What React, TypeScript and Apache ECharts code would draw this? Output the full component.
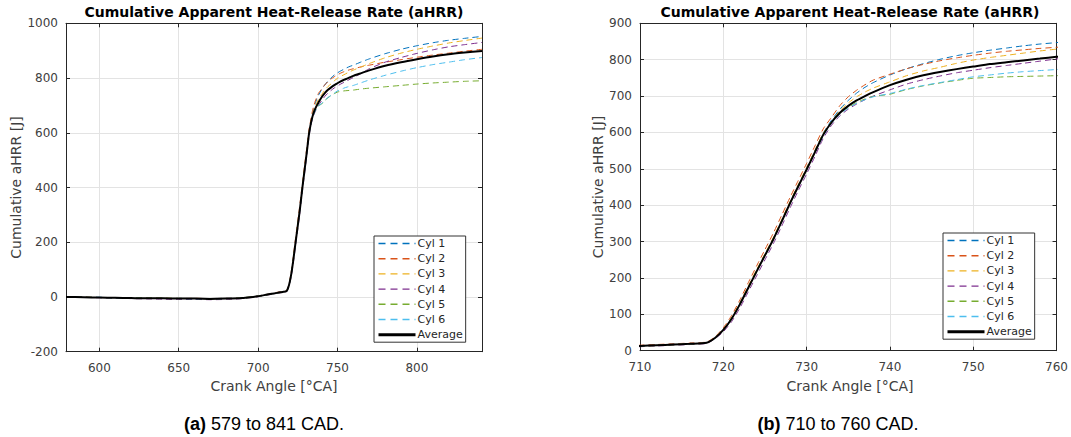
import React, { useEffect, useRef } from 'react';
import * as echarts from 'echarts';

// Crank angle samples [°CA]
const CRANK = [
  579, 590, 600, 610, 620, 630, 640, 650, 660, 670,
  680, 690, 695, 700, 705, 710, 712, 714, 716, 718,
  719, 720, 721, 722, 723, 724, 725, 726, 727, 728,
  729, 730, 731, 732, 733, 734, 735, 736, 737, 738,
  740, 742, 744, 746, 748, 750, 752, 754, 756, 758,
  760, 765, 770, 780, 790, 800, 810, 820, 830, 841,
];

// Cumulative aHRR [J]
const CYL1 = [
  0, -1, -1, -3, -3, -4, -5, -5, -6, -6, -5, -3, 0, 4, 9, 14, 16, 18, 20, 23,
  36, 58, 90, 131, 176, 221, 265, 309, 357, 407, 455, 502, 550, 598,
  634, 664, 688, 708, 724, 737, 758, 775, 789, 801, 811, 819, 826, 832, 838, 843, 847, 859,
  870, 889, 905, 918, 929, 938, 945, 952,
];
const CYL2 = [
  0, 0, -2, -2, -4, -4, -5, -6, -5, -6, -5, -4, -1, 4, 9, 15, 17, 19, 21, 24,
  38, 63, 97, 140, 187, 233, 278, 323, 372, 421, 468, 515, 563, 610,
  642, 674, 698, 716, 731, 744, 760, 775, 787, 797, 805, 812, 818, 823, 827, 831, 834, 841,
  847, 858, 867, 876, 884, 891, 898, 905,
];
const CYL3 = [
  0, -1, -2, -2, -3, -5, -4, -5, -6, -6, -6, -3, 0, 3, 8, 13, 15, 17, 19, 22,
  36, 59, 91, 132, 178, 223, 267, 311, 360, 410, 457, 503, 551, 598,
  630, 660, 681, 698, 711, 722, 739, 756, 769, 779, 790, 799, 806, 812, 818, 824, 829, 841,
  853, 874, 891, 905, 917, 928, 937, 946,
];
const CYL4 = [
  0, -1, -3, -4, -6, -7, -8, -9, -9, -10, -9, -6, -3, 1, 6, 11, 13, 15, 17, 20,
  33, 52, 80, 118, 162, 206, 250, 294, 342, 392, 440, 486, 534, 584,
  620, 646, 664, 678, 690, 700, 717, 733, 745, 755, 764, 771, 778, 784, 790, 796, 802, 817,
  834, 858, 875, 890, 903, 914, 922, 930,
];
const CYL5 = [
  0, -1, -2, -3, -4, -4, -5, -6, -6, -7, -6, -5, -2, 2, 7, 12, 14, 16, 18, 21,
  34, 56, 87, 127, 172, 217, 261, 305, 354, 404, 451, 497, 545, 592,
  627, 652, 669, 682, 692, 699, 705, 718, 728, 736, 743, 749, 751, 753, 754, 755, 756, 760,
  763, 768, 773, 778, 782, 785, 788, 790,
];
const CYL6 = [
  0, -1, -2, -3, -4, -5, -5, -6, -7, -7, -6, -4, -1, 3, 8, 13, 15, 17, 19, 22,
  35, 57, 88, 128, 173, 218, 262, 306, 354, 404, 451, 497, 544, 590,
  626, 650, 667, 680, 690, 698, 707, 719, 729, 737, 745, 753, 758, 763, 767, 770, 773, 783,
  793, 810, 825, 838, 849, 858, 867, 875,
];
const AVERAGE = [
  0, -1, -2, -3, -4, -5, -5, -6, -6, -7, -6, -4, -1, 3, 8, 13, 15, 17, 19, 22,
  35, 57, 88, 128, 173, 218, 262, 306, 355, 405, 452, 498, 546, 594,
  628, 654, 673, 688, 700, 711, 730, 745, 757, 766, 774, 781, 788, 793, 798, 803, 808, 818,
  828, 845, 858, 869, 879, 887, 893, 899,
];

const CYL_NAMES = ['Cyl 1', 'Cyl 2', 'Cyl 3', 'Cyl 4', 'Cyl 5', 'Cyl 6'];
const CYL_DATA = [CYL1, CYL2, CYL3, CYL4, CYL5, CYL6];
const CYL_COLORS = ['#0072BD', '#D95319', '#EDB120', '#7E2F8E', '#77AC30', '#4DBEEE'];
const AVG_NAME = 'Average';

const TITLE = 'Cumulative Apparent Heat-Release Rate (aHRR)';
const X_NAME = 'Crank Angle [°CA]';
const Y_NAME = 'Cumulative aHRR [J]';

// Panel (a)
const A_X_MIN = 579, A_X_MAX = 841, A_X_STEP = 50;
const A_Y_MIN = -200, A_Y_MAX = 1000, A_Y_STEP = 200;
// Panel (b)
const B_X_MIN = 710, B_X_MAX = 760, B_X_STEP = 10;
const B_Y_MIN = 0, B_Y_MAX = 900, B_Y_STEP = 100;

const FONT = 'DejaVu Sans';
const AX_COLOR = '#262626';
const LABEL_COLOR = '#404040';
const GRID_COLOR = '#e3e3e3';

const pairs = (ys: number[]) => CRANK.map((x, i) => [x, ys[i]]);
const plain = (v: number) => String(v);

function xAxisPair(gridIndex: number, min: number, max: number, step: number, fixedInterval: boolean) {
  const base: any = {
    type: 'value',
    gridIndex,
    min,
    max,
    axisLine: { show: true, onZero: false, lineStyle: { color: AX_COLOR, width: 1 } },
    axisTick: { show: true, inside: true, length: 4, lineStyle: { color: AX_COLOR } },
  };
  if (fixedInterval) base.interval = step;
  else { base.minInterval = step; base.maxInterval = step; }
  return [
    {
      ...base,
      position: 'bottom',
      axisLabel: {
        show: true, margin: 10, fontSize: 12, fontFamily: FONT, color: LABEL_COLOR,
        formatter: plain,
        showMinLabel: fixedInterval ? true : false,
        showMaxLabel: fixedInterval ? true : false,
      },
      splitLine: { show: true, lineStyle: { color: GRID_COLOR, width: 1 } },
    },
    {
      ...base,
      position: 'top',
      axisLabel: { show: false },
      splitLine: { show: false },
    },
  ];
}

function yAxisPair(gridIndex: number, min: number, max: number, step: number) {
  const base: any = {
    type: 'value',
    gridIndex,
    min,
    max,
    interval: step,
    axisLine: { show: true, onZero: false, lineStyle: { color: AX_COLOR, width: 1 } },
    axisTick: { show: true, inside: true, length: 4, lineStyle: { color: AX_COLOR } },
  };
  return [
    {
      ...base,
      position: 'left',
      axisLabel: { show: true, margin: 8, fontSize: 12, fontFamily: FONT, color: LABEL_COLOR, formatter: plain },
      splitLine: { show: true, lineStyle: { color: GRID_COLOR, width: 1 } },
    },
    {
      ...base,
      position: 'right',
      axisLabel: { show: false },
      splitLine: { show: false },
    },
  ];
}

function panelSeries(xAxisIndex: number, yAxisIndex: number) {
  const s: any[] = CYL_NAMES.map((name, k) => ({
    name,
    type: 'line',
    xAxisIndex,
    yAxisIndex,
    data: pairs(CYL_DATA[k]),
    symbol: 'none',
    showSymbol: false,
    smooth: 0.2,
    color: CYL_COLORS[k],
    lineStyle: { color: CYL_COLORS[k], width: 1, type: [6, 4] },
    z: 2,
  }));
  s.push({
    name: AVG_NAME,
    type: 'line',
    xAxisIndex,
    yAxisIndex,
    data: pairs(AVERAGE),
    symbol: 'none',
    showSymbol: false,
    smooth: 0.2,
    color: '#000000',
    lineStyle: { color: '#000000', width: 2, type: 'solid' },
    z: 3,
  });
  return s;
}

function legendAt(left: number, top: number) {
  return {
    orient: 'vertical',
    left,
    top,
    data: [
      ...CYL_NAMES.map((name, k) => ({
        name,
        lineStyle: { color: CYL_COLORS[k], width: 1.4, type: [7, 5] },
      })),
      { name: AVG_NAME, lineStyle: { color: '#000000', width: 3, type: 'solid' } },
    ],
    itemWidth: 37,
    itemHeight: 11,
    itemGap: 4.2,
    padding: [2, 3, 2, 3],
    backgroundColor: '#ffffff',
    borderColor: '#333333',
    borderWidth: 1,
    borderRadius: 0,
    selectedMode: false,
    itemStyle: { opacity: 0, borderWidth: 0 },
    textStyle: { fontSize: 11, fontFamily: FONT, color: AX_COLOR, padding: [0, 0, 0, -3] },
  };
}

function text(x: number, y: number, s: string, size: number, weight: string, color: string, rotation = 0) {
  return {
    type: 'text',
    x,
    y,
    rotation,
    silent: true,
    style: {
      text: s,
      fontSize: size,
      fontFamily: FONT,
      fontWeight: weight,
      fill: color,
      textAlign: 'center',
      textVerticalAlign: 'middle',
    },
  };
}

function caption(x: number, y: number, tag: string, rest: string) {
  return {
    type: 'text',
    x,
    y,
    silent: true,
    style: {
      text: `{b|${tag}}{n| ${rest}}`,
      rich: {
        b: { fontSize: 18, fontFamily: 'Liberation Sans', fontWeight: 'bold', fill: '#000' },
        n: { fontSize: 18, fontFamily: 'Liberation Sans', fontWeight: 'normal', fill: '#000' },
      },
      textAlign: 'center',
      textVerticalAlign: 'middle',
    },
  };
}

export default function App() {
  const ref = useRef<HTMLDivElement>(null);
  useEffect(() => {
    if (!ref.current) return;
    const chart = echarts.init(ref.current, null, { renderer: 'svg' });
    const [ax0, ax1] = xAxisPair(0, A_X_MIN, A_X_MAX, A_X_STEP, false);
    const [bx0, bx1] = xAxisPair(1, B_X_MIN, B_X_MAX, B_X_STEP, true);
    const [ay0, ay1] = yAxisPair(0, A_Y_MIN, A_Y_MAX, A_Y_STEP);
    const [by0, by1] = yAxisPair(1, B_Y_MIN, B_Y_MAX, B_Y_STEP);
    const option: any = {
      animation: false,
      backgroundColor: '#ffffff',
      grid: [
        { left: 66, top: 23.3, width: 416, height: 328.4, containLabel: false },
        { left: 640, top: 23.3, width: 420, height: 327.4, containLabel: false },
      ],
      xAxis: [ax0, ax1, bx0, bx1],
      yAxis: [ay0, ay1, by0, by1],
      legend: [legendAt(374, 236), legendAt(943, 233)],
      series: [...panelSeries(0, 0), ...panelSeries(2, 2)],
      graphic: [
        text(274, 12, TITLE, 14, 'bold', '#000000'),
        text(850, 12, TITLE, 14, 'bold', '#000000'),
        text(274, 386, X_NAME, 14, 'normal', LABEL_COLOR),
        text(850, 386, X_NAME, 14, 'normal', LABEL_COLOR),
        text(16, 187.5, Y_NAME, 14, 'normal', LABEL_COLOR, Math.PI / 2),
        text(598, 187, Y_NAME, 14, 'normal', LABEL_COLOR, Math.PI / 2),
        caption(264, 424, '(a)', '579 to 841 CAD.'),
        caption(838, 424, '(b)', '710 to 760 CAD.'),
      ],
    };
    chart.setOption(option);
    return () => chart.dispose();
  }, []);
  return (
    <div
      ref={ref}
      style={{ position: 'fixed', left: 0, top: 0, width: 1071, height: 437, background: '#fff' }}
    />
  );
}
